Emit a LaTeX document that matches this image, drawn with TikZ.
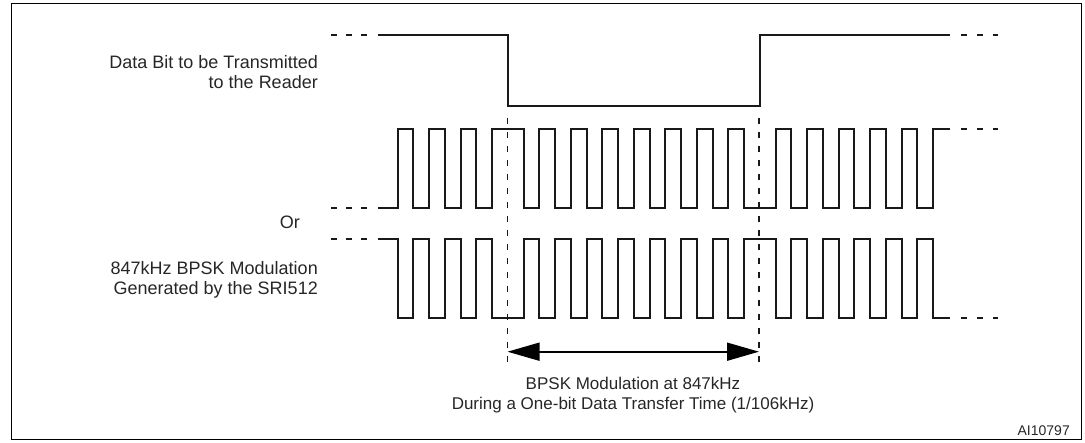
\documentclass[tikz,border=0pt]{standalone}
\usepackage{fontspec}
\setmainfont{Liberation Sans}
\usetikzlibrary{arrows.meta}
\begin{document}
\begin{tikzpicture}[x=1pt,y=-1pt,
  sig/.style={line width=2pt,line join=miter,color=black!90},
  enddash/.style={line width=2pt,color=black!90,dash pattern=on 6pt off 9pt},
  enddashr/.style={line width=2pt,color=black!90,dash pattern=on 5.5pt off 10.5pt},
  guide/.style={line width=1.4pt,color=black!90,dash pattern=on 6pt off 8pt},
  lbl/.style={font=\fontsize{18}{20.5}\selectfont,color=black!85,inner sep=0pt},
  blbl/.style={font=\fontsize{17}{20}\selectfont,color=black!85,inner sep=0pt},
  ref/.style={font=\fontsize{14}{16}\selectfont,color=black!85,inner sep=0pt}]
\useasboundingbox (0,0) rectangle (1085,443);
\draw[line width=1.3pt] (11.5,3.5) rectangle (1081.5,439.5);
\def\h{15.75}
\def\d{78.7}
% data bit
\coordinate (dA) at (378,34.7);
\coordinate (dB) at (507.95,34.7);
\coordinate (dC) at (507.95,106);
\coordinate (dD) at (759.95,106);
\coordinate (dE) at (759.95,34.7);
\coordinate (dF) at (950,34.7);
\draw[enddash] (331,34.7) -- (367,34.7);
\draw[sig] (dA) -- (dB) -- (dC) -- (dD) -- (dE) -- (dF);
\draw[enddashr] (961,34.7) -- (998,34.7);
% top carrier
\draw[enddash] (331,208) -- (367,208);
\draw[sig] (378,208) -- (397.7,208)
  \foreach \i in {1,2,3} { -- ++(0,-\d) -- ++(\h,0) -- ++(0,\d) -- ++(\h,0) }
  -- ++(0,-\d) -- ++(2*\h,0) -- ++(0,\d)
  \foreach \i in {1,...,7} { -- ++(\h,0) -- ++(0,-\d) -- ++(\h,0) -- ++(0,\d) }
  -- ++(2*\h,0) -- ++(0,-\d)
  \foreach \i in {1,...,5} { -- ++(\h,0) -- ++(0,\d) -- ++(\h,0) -- ++(0,-\d) }
  -- (950,129.3);
\draw[enddashr] (961,129.3) -- (998,129.3);
% bottom carrier
\draw[enddash] (331,239.3) -- (367,239.3);
\draw[sig] (378,239.3) -- (397.7,239.3)
  \foreach \i in {1,2,3} { -- ++(0,\d) -- ++(\h,0) -- ++(0,-\d) -- ++(\h,0) }
  -- ++(0,\d) -- ++(2*\h,0) -- ++(0,-\d)
  \foreach \i in {1,...,7} { -- ++(\h,0) -- ++(0,\d) -- ++(\h,0) -- ++(0,-\d) }
  -- ++(2*\h,0) -- ++(0,\d)
  \foreach \i in {1,...,5} { -- ++(\h,0) -- ++(0,-\d) -- ++(\h,0) -- ++(0,\d) }
  -- (950,318);
\draw[enddashr] (961,318) -- (998,318);
% guides
\coordinate (gLt) at (507.5,118);
\coordinate (gLb) at (507.5,366);
\coordinate (gRt) at (759,118);
\coordinate (gRb) at (759,366);
\draw[guide] (gLt) -- (gLb);
\draw[guide] (gRt) -- (gRb);
% arrow
\coordinate (aL) at (507.5,351.7);
\coordinate (aR) at (759,351.7);
\draw[line width=1.7pt,{Triangle[length=32pt,width=18pt]}-{Triangle[length=32pt,width=18pt]}] (aL) -- (aR);
% labels
\node[lbl,anchor=east,align=right] (tData) at (318,72) {Data Bit to be Transmitted\\to the Reader};
\node[lbl,anchor=east] (tOr) at (300,222) {Or};
\node[lbl,anchor=east,align=right] (tGen) at (318,280) {847kHz BPSK Modulation\\Generated by the SRI512};
\node[blbl,align=center] (tBot) at (633,395) {BPSK Modulation at 847kHz\\During a One-bit Data Transfer Time (1/106kHz)};
\node[ref,anchor=east] (tRef) at (1070,431) {AI10797};
\end{tikzpicture}
\end{document}
